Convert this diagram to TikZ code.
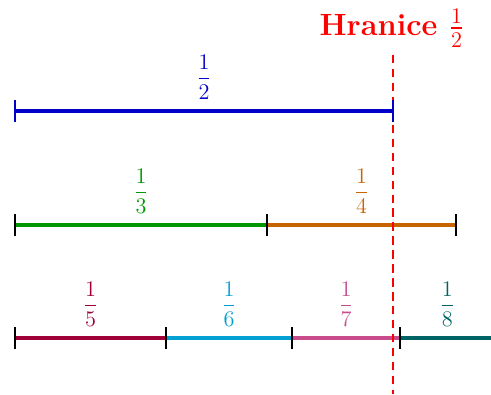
\documentclass[tikz,border=0pt]{standalone}
\usepackage{amsmath}
\begin{document}
\begin{tikzpicture}[x=0.5376pt,y=-0.5376pt,
  seg/.style={line width=2.1pt},
  tick/.style={line width=0.8pt,black},
  lab/.style={above=4pt,inner sep=1pt,font=\fontsize{12}{14}\selectfont},
  bound/.style={red,line width=1.1pt,dash pattern=on 4.5pt off 3pt}]
\useasboundingbox (0,0) rectangle (491,394);
\definecolor{cB}{RGB}{0,0,200}
\definecolor{cG}{RGB}{0,150,0}
\definecolor{cO}{RGB}{200,100,0}
\definecolor{cP}{RGB}{160,0,55}
\definecolor{cC}{RGB}{0,160,210}
\definecolor{cM}{RGB}{200,75,140}
\definecolor{cT}{RGB}{0,100,100}
% row 1
\coordinate (a0) at (15,111);
\coordinate (a1) at (393,111);
% row 2
\coordinate (b0) at (15,225);
\coordinate (b1) at (267,225);
\coordinate (b2) at (456,225);
% row 3
\coordinate (c0) at (15,338);
\coordinate (c1) at (166,338);
\coordinate (c2) at (292,338);
\coordinate (c3) at (400,338);
\coordinate (c4) at (494.5,338);
% boundary
\coordinate (h0) at (393,55);
\coordinate (h1) at (393,394);
\node[red,font=\fontsize{16.5}{19}\selectfont\bfseries] (hr) at (392,28) {Hranice $\frac{1}{2}$};

\draw[seg,cB] (a0) -- node[lab,cB] (la) {$\dfrac{1}{2}$} (a1);
\draw[seg,cG] (b0) -- node[lab,cG] (lb1) {$\dfrac{1}{3}$} (b1);
\draw[seg,cO] (b1) -- node[lab,cO] (lb2) {$\dfrac{1}{4}$} (b2);
\draw[seg,cP] (c0) -- node[lab,cP] (lc1) {$\dfrac{1}{5}$} (c1);
\draw[seg,cC] (c1) -- node[lab,cC] (lc2) {$\dfrac{1}{6}$} (c2);
\draw[seg,cM] (c2) -- node[lab,cM] (lc3) {$\dfrac{1}{7}$} (c3);
\draw[seg,cT] (c3) -- node[lab,cT] (lc4) {$\dfrac{1}{8}$} (c4);

\foreach \p in {b0,b1,b2,c0,c1,c2,c3}
  \draw[tick] ([yshift=-11*0.5376pt]\p) -- ([yshift=11*0.5376pt]\p);
\draw[bound] (h0) -- (h1);
\draw[tick,cB] ([yshift=-11*0.5376pt]a0) -- ([yshift=11*0.5376pt]a0);
\draw[tick,cB] ([yshift=-11*0.5376pt]a1) -- ([yshift=11*0.5376pt]a1);
\end{tikzpicture}
\end{document}
